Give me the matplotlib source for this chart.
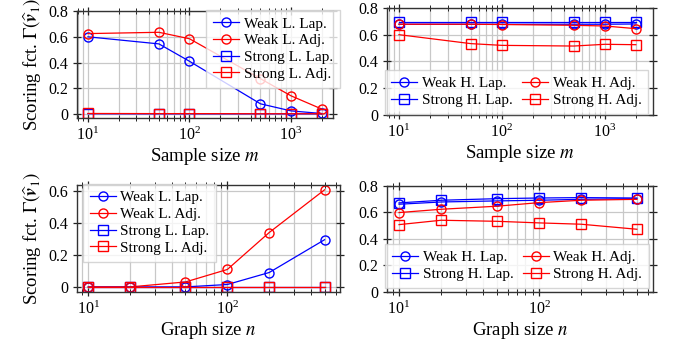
import matplotlib
matplotlib.use('Agg')
import matplotlib.pyplot as plt

plt.rcParams['font.family'] = ['Liberation Serif', 'DejaVu Serif']
plt.rcParams['mathtext.fontset'] = 'stix'

# sample size sweep (top row)
m_vals = [10, 50, 100, 500, 1000, 2000]
weak_l_lap_m = [0.600, 0.545, 0.410, 0.080, 0.025, 0.005]
weak_l_adj_m = [0.625, 0.635, 0.585, 0.275, 0.142, 0.040]
strong_l_lap_m = [0.003, 0.002, 0.002, 0.002, 0.002, 0.002]
strong_l_adj_m = [0.005, 0.004, 0.004, 0.003, 0.003, 0.003]

weak_h_lap_m = [0.678, 0.678, 0.678, 0.678, 0.678, 0.680]
weak_h_adj_m = [0.678, 0.678, 0.676, 0.670, 0.665, 0.645]
strong_h_lap_m = [0.695, 0.695, 0.695, 0.695, 0.695, 0.695]
strong_h_adj_m = [0.600, 0.533, 0.520, 0.515, 0.528, 0.525]

# graph size sweep (bottom row)
n_vals = [10, 20, 50, 100, 200, 500]
weak_l_lap_n = [0.0, 0.0, 0.0, 0.015, 0.090, 0.295]
weak_l_adj_n = [0.0, 0.0, 0.031, 0.109, 0.340, 0.607]
strong_l_lap_n = [0.0, 0.0, 0.0, 0.0, 0.0, 0.0]
strong_l_adj_n = [0.0, 0.0, 0.0, 0.0, 0.0, 0.0]

weak_h_lap_n = [0.662, 0.679, 0.687, 0.692, 0.699, 0.704]
weak_h_adj_n = [0.599, 0.624, 0.647, 0.674, 0.692, 0.699]
strong_h_lap_n = [0.672, 0.692, 0.704, 0.709, 0.712, 0.709]
strong_h_adj_n = [0.508, 0.541, 0.533, 0.521, 0.511, 0.473]

BLUE = '#0000ff'
RED = '#ff0000'
YLABEL = r'Scoring fct. $\Gamma(\widehat{\boldsymbol{v}}_1)$'
LEG = dict(fontsize=11, fancybox=False, edgecolor='#cccccc', framealpha=0.8,
           handlelength=1.7, borderpad=0.45, labelspacing=0.2,
           handletextpad=0.3, borderaxespad=0.0)


def style_axes(ax, xlim, ylim, yticks):
    ax.set_xscale('log')
    ax.set_xlim(*xlim)
    ax.set_ylim(*ylim)
    ax.set_yticks(yticks)
    ax.set_yticklabels(['0' if t == 0 else f'{t:.1f}' for t in yticks])
    ax.grid(True, which='major', color='#c8c8c8', linewidth=0.9)
    ax.grid(True, which='minor', axis='x', color='#c8c8c8', linewidth=0.9)
    ax.set_axisbelow(True)
    ax.tick_params(which='both', direction='inout', top=True, right=True,
                   labelsize=11.5, color='#222222')
    ax.tick_params(which='major', length=6, width=0.9)
    ax.tick_params(which='minor', length=4, width=0.7)
    for s in ax.spines.values():
        s.set_color('#333333')
        s.set_linewidth(1.0)


def curve(ax, x, y, color, marker, label):
    ax.plot(x, y, color=color, marker=marker, markersize=6.5,
            markerfacecolor='none', markeredgewidth=1.0, linewidth=0.9,
            label=label)


fig = plt.figure(figsize=(6.73, 3.45), dpi=100)

# top-left
ax1 = fig.add_axes([0.1144, 0.658, 0.3804, 0.310])
curve(ax1, m_vals, weak_l_lap_m, BLUE, 'o', 'Weak L. Lap.')
curve(ax1, m_vals, weak_l_adj_m, RED, 'o', 'Weak L. Adj.')
curve(ax1, m_vals, strong_l_lap_m, BLUE, 's', 'Strong L. Lap.')
curve(ax1, m_vals, strong_l_adj_m, RED, 's', 'Strong L. Adj.')
style_axes(ax1, (7.8, 2590), (-0.03, 0.8), [0, 0.2, 0.4, 0.6, 0.8])
ax1.set_xlabel(r'Sample size $m$', fontsize=13.5, labelpad=1)
ax1.set_ylabel(YLABEL, fontsize=13.5, labelpad=3)
ax1.legend(loc='upper right', bbox_to_anchor=(1.027, 1.01), **LEG)

# top-right
ax2 = fig.add_axes([0.575, 0.667, 0.395, 0.310])
curve(ax2, m_vals, weak_h_lap_m, BLUE, 'o', 'Weak H. Lap.')
curve(ax2, m_vals, strong_h_lap_m, BLUE, 's', 'Strong H. Lap.')
curve(ax2, m_vals, weak_h_adj_m, RED, 'o', 'Weak H. Adj.')
curve(ax2, m_vals, strong_h_adj_m, RED, 's', 'Strong H. Adj.')
style_axes(ax2, (7.65, 2925), (0, 0.8), [0, 0.2, 0.4, 0.6, 0.8])
ax2.set_xlabel(r'Sample size $m$', fontsize=13.5, labelpad=1)
ax2.legend(loc='lower center', bbox_to_anchor=(0.487, 0.01), ncol=2,
           columnspacing=0.6, **LEG)

# bottom-left
ax3 = fig.add_axes([0.1144, 0.154, 0.391, 0.310])
curve(ax3, n_vals, weak_l_lap_n, BLUE, 'o', 'Weak L. Lap.')
curve(ax3, n_vals, weak_l_adj_n, RED, 'o', 'Weak L. Adj.')
curve(ax3, n_vals, strong_l_lap_n, BLUE, 's', 'Strong L. Lap.')
curve(ax3, n_vals, strong_l_adj_n, RED, 's', 'Strong L. Adj.')
style_axes(ax3, (8.3, 647), (-0.031, 0.6375), [0, 0.2, 0.4, 0.6])
ax3.set_xlabel(r'Graph size $n$', fontsize=13.5, labelpad=1)
ax3.set_ylabel(YLABEL, fontsize=13.5, labelpad=3)
ax3.legend(loc='upper left', bbox_to_anchor=(0.023, 1.01), **LEG)

# bottom-right
ax4 = fig.add_axes([0.575, 0.154, 0.395, 0.307])
curve(ax4, n_vals, weak_h_lap_n, BLUE, 'o', 'Weak H. Lap.')
curve(ax4, n_vals, strong_h_lap_n, BLUE, 's', 'Strong H. Lap.')
curve(ax4, n_vals, weak_h_adj_n, RED, 'o', 'Weak H. Adj.')
curve(ax4, n_vals, strong_h_adj_n, RED, 's', 'Strong H. Adj.')
style_axes(ax4, (8.2, 650), (0, 0.8), [0, 0.2, 0.4, 0.6, 0.8])
ax4.set_xlabel(r'Graph size $n$', fontsize=13.5, labelpad=1)
ax4.legend(loc='lower center', bbox_to_anchor=(0.49, 0.038), ncol=2,
           columnspacing=0.6, **LEG)

fig.savefig('out.png', dpi=100)
plt.close(fig)
